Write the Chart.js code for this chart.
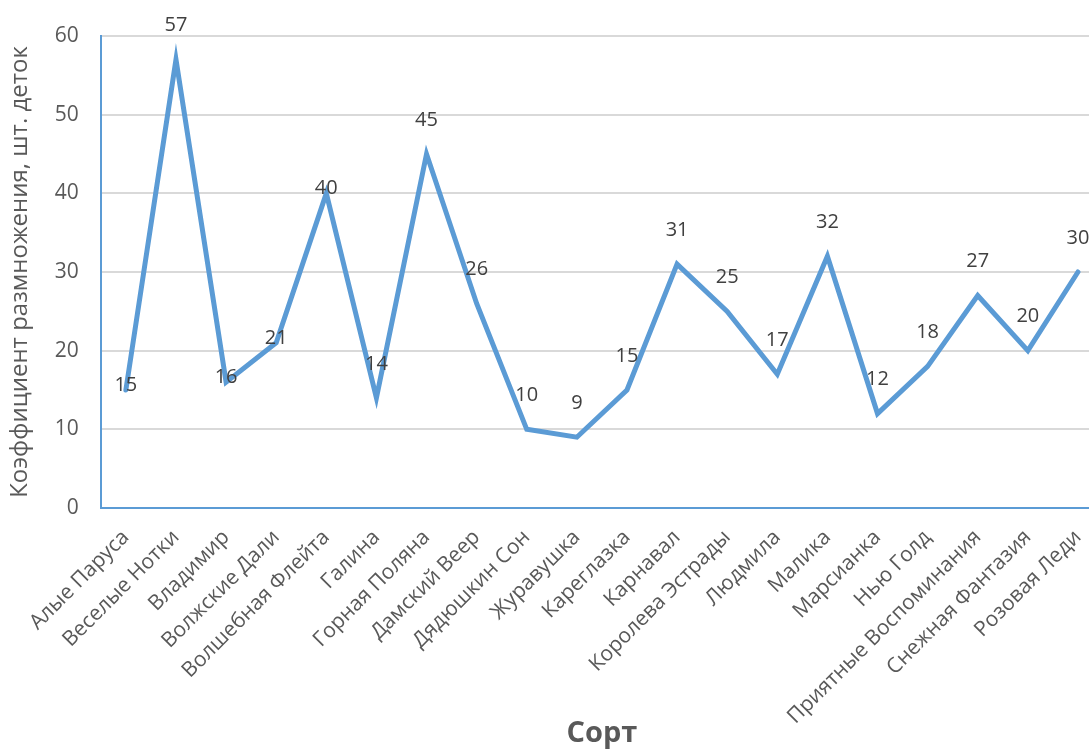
<!DOCTYPE html>
<html>
<head>
<meta charset="utf-8">
<script src="https://cdn.jsdelivr.net/npm/chart.js@4/dist/chart.umd.min.js"></script>
<style>
    html, body { margin: 0; padding: 0; background: #fff; overflow: hidden; }
    #wrap { width: 1115px; height: 751px; }
</style>
</head>
<body>
<div id="wrap"><canvas id="lineChart" width="1115" height="751"></canvas></div>
<script>
const varieties = ['Алые Паруса', 'Веселые Нотки', 'Владимир', 'Волжские Дали', 'Волшебная Флейта',
    'Галина', 'Горная Поляна', 'Дамский Веер', 'Дядюшкин Сон', 'Журавушка', 'Кареглазка',
    'Карнавал', 'Королева Эстрады', 'Людмила', 'Малика', 'Марсианка', 'Нью Голд',
    'Приятные Воспоминания', 'Снежная Фантазия', 'Розовая Леди'];
const ratios = [15, 57, 16, 21, 40, 14, 45, 26, 10, 9, 15, 31, 25, 17, 32, 12, 18, 27, 20, 30];
const yTicks = [0, 10, 20, 30, 40, 50, 60];

const textGray = '#595959';
const blue = '#5B9BD5';

// simple value labels over the points (no datalabels plugin offline)
const pointLabels = {
    id: 'pointLabels',
    afterDatasetsDraw(chart, args, opts) {
        const ctx = chart.ctx;
        const meta = chart.getDatasetMeta(0);
        ctx.save();
        ctx.font = opts.font;
        ctx.fillStyle = opts.color;
        ctx.textAlign = 'center';
        ctx.textBaseline = 'middle';
        meta.data.forEach((pt, i) => {
            const lift = opts.nearLine.includes(i) ? opts.smallLift : opts.lift;
            ctx.fillText(String(chart.data.datasets[0].data[i]), pt.x, pt.y - lift);
        });
        ctx.restore();
    }
};

const ctx = document.getElementById('lineChart').getContext('2d');
new Chart(ctx, {
    type: 'line',
    data: {
        labels: varieties,
        datasets: [{
            data: ratios,
            borderColor: blue,
            borderWidth: 5,
            borderCapStyle: 'round',
            borderJoinStyle: 'miter',
            pointRadius: 0,
            tension: 0,
            fill: false
        }]
    },
    options: {
        responsive: false,
        animation: false,
        layout: { padding: { top: 36, left: 6, right: 12, bottom: 0 } },
        plugins: {
            legend: { display: false },
            tooltip: { enabled: false },
            pointLabels: {
                font: '20px "Open Sans"',
                color: '#404040',
                lift: 34,
                smallLift: 5,
                nearLine: [0, 2, 3, 4]
            }
        },
        scales: {
            x: {
                offset: true,
                afterFit: axis => { axis.height = 243; },
                grid: { display: false, drawTicks: false },
                border: { color: blue, width: 2 },
                ticks: {
                    color: textGray,
                    font: { family: 'Open Sans', size: 21 },
                    minRotation: 45,
                    maxRotation: 45,
                    autoSkip: false,
                    padding: 17
                },
                title: {
                    display: true,
                    text: 'Сорт',
                    color: textGray,
                    font: { family: 'Open Sans', size: 29, weight: 'bold' },
                    padding: { top: 0, bottom: 0 }
                }
            },
            y: {
                min: 0,
                max: 60,
                afterBuildTicks: axis => { axis.ticks = yTicks.map(v => ({ value: v })); },
                grid: { color: '#D9D9D9', lineWidth: 2, drawTicks: false },
                border: { color: blue, width: 2 },
                ticks: {
                    color: textGray,
                    font: { family: 'Open Sans', size: 21 },
                    padding: 22
                },
                title: {
                    display: true,
                    text: 'Коэффициент размножения, шт. деток',
                    color: textGray,
                    font: { family: 'Open Sans', size: 24 },
                    padding: { top: 0, bottom: -2 }
                }
            }
        }
    },
    plugins: [pointLabels]
});
</script>
</body>
</html>
